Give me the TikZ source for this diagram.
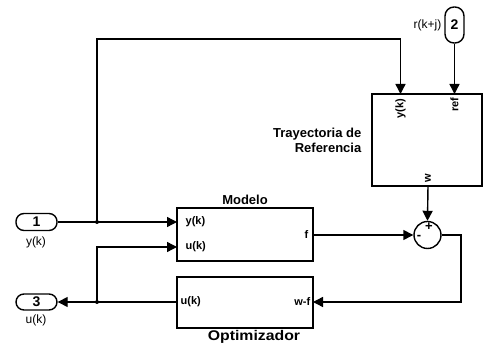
\documentclass[tikz,border=0pt]{standalone}
\usepackage{fontspec}
\setmainfont{Liberation Sans}
\usetikzlibrary{arrows.meta,positioning}
\begin{document}
\begin{tikzpicture}[x=1pt,y=-1pt,
  line width=1.4pt,
  blk/.style={draw,line width=1.4pt,inner sep=0pt},
  pill/.style={draw,line width=1.4pt,rounded corners=8pt,inner sep=0pt,font=\bfseries\fontsize{14}{14}\selectfont},
  plab/.style={inner sep=0pt,font=\bfseries\fontsize{11}{11}\selectfont},
  ttl/.style={inner sep=0pt,font=\bfseries\fontsize{13}{15}\selectfont},
  ilab/.style={inner sep=0pt,font=\fontsize{12}{12}\selectfont},
  arr/.style={-{Triangle[length=10pt,width=10pt]}},
  dot/.style={circle,fill,inner sep=0pt,minimum size=4pt}
]
\useasboundingbox (0,0) rectangle (483,344);
% blocks
\node[blk,minimum width=110pt,minimum height=92pt] (T) at (427,140) {};
\node[blk,minimum width=136pt,minimum height=53pt] (M) at (245,234.5) {};
\node[blk,minimum width=136pt,minimum height=51pt] (O) at (245,302.5) {};
\node[draw,circle,line width=1.4pt,minimum size=27pt,inner sep=0pt] (S) at (427.5,235) {};
\node[pill,minimum width=41pt,minimum height=17pt] (I1) at (36.5,222) {1};
\node[pill,minimum width=41pt,minimum height=16pt] (O3) at (36.5,302) {3};
\node[pill,minimum width=19pt,minimum height=36pt,rounded corners=9pt] (I2) at (454.5,25) {2};
% titles
\node[ttl] (tM) at (245,200) {Modelo};
\node[ttl,font=\bfseries\fontsize{14}{15}\selectfont] (tO) at (254,337) {\scalebox{1.13}[1]{Optimizador}};
\node[ttl,align=right,anchor=east] (tT) at (362,140) {Trayectoria de\\Referencia};
% external labels
\node[ilab] (l1) at (36,242) {y(k)};
\node[ilab] (l3) at (36,320) {u(k)};
\node[ilab,anchor=east] (l2) at (442,25) {r(k+j)};
% port labels
\node[plab,anchor=west] (My) at (185,222) {y(k)};
\node[plab,anchor=west] (Mu) at (185,247) {u(k)};
\node[plab,anchor=east] (Mf) at (309,235) {f};
\node[plab,anchor=west] (Ou) at (180,302) {u(k)};
\node[plab,anchor=east] (Ow) at (311,302) {w-f};
\node[plab,rotate=90,anchor=east] (Ty) at (400.5,98) {y(k)};
\node[plab,rotate=90,anchor=east] (Tr) at (454.5,97) {ref};
\node[plab,rotate=90,anchor=west] (Tw) at (428,183) {w};
\node[inner sep=0pt,font=\bfseries\fontsize{13}{13}\selectfont] (sp) at (429,227) {+};
\node[inner sep=0pt,font=\bfseries\fontsize{13}{13}\selectfont] (sm) at (419,237) {-};
% coordinates
\coordinate (b1) at (97,222);
\coordinate (b2) at (97,302);
\coordinate (c1) at (97,39);
\coordinate (c2) at (400.5,39);
\coordinate (c3) at (97,247);
\coordinate (c4) at (461,235);
\coordinate (c5) at (461,302);
\coordinate (Tyin) at (400.5,94);
\coordinate (Trin) at (454.5,94);
\coordinate (Tout) at (428,186);
\coordinate (Myin) at (177,222);
\coordinate (Muin) at (177,247);
\coordinate (Mfout) at (313,235);
\coordinate (Oin) at (313,302);
\coordinate (Oout) at (177,302);
% connectors
\draw[arr] (I1.east) -- (Myin);
\draw[arr] (b1) -- (c1) -- (c2) -- (Tyin);
\draw[arr] (I2.south) -- (Trin);
\draw[arr] (Tout) -- (S.north);
\draw[arr] (Mfout) -- (S.west);
\draw[arr] (S.east) -- (c4) -- (c5) -- (Oin);
\draw[arr] (Oout) -- (O3.east);
\draw[arr] (b2) -- (c3) -- (Muin);
\node[dot] at (b1) {};
\node[dot] at (b2) {};
\end{tikzpicture}
\end{document}
